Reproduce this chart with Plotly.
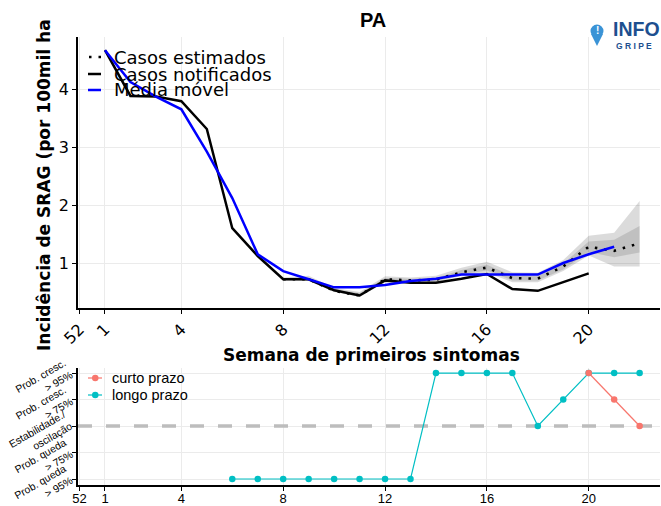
import plotly.graph_objects as go

W, H = 661, 506

# ---------------- data ----------------
weeks_notif = list(range(1, 21))
notified = [4.67, 3.88, 3.87, 3.79, 3.31, 1.60, 1.12, 0.72, 0.72, 0.53,
            0.44, 0.70, 0.66, 0.66, 0.73, 0.81, 0.55, 0.52, 0.67, 0.82]

weeks_ma = list(range(1, 22))
moving_avg = [4.67, 4.12, 3.87, 3.65, 2.92, 2.12, 1.15, 0.86, 0.72, 0.58,
              0.58, 0.62, 0.69, 0.73, 0.80, 0.80, 0.79, 0.80, 1.00, 1.15, 1.28]

weeks_est = list(range(8, 23))
estimated = [0.72, 0.72, 0.52, 0.44, 0.72, 0.70, 0.71, 0.84, 0.92, 0.74,
             0.73, 0.94, 1.28, 1.21, 1.34]
inner_lo = [0.71, 0.70, 0.51, 0.43, 0.69, 0.68, 0.69, 0.80, 0.87, 0.70,
            0.70, 0.89, 1.19, 1.10, 1.18]
inner_hi = [0.74, 0.75, 0.55, 0.48, 0.74, 0.73, 0.74, 0.88, 0.97, 0.78,
            0.77, 0.99, 1.37, 1.40, 1.64]
outer_lo = [0.70, 0.69, 0.50, 0.42, 0.66, 0.66, 0.67, 0.78, 0.83, 0.67,
            0.67, 0.86, 1.13, 0.94, 0.94]
outer_hi = [0.75, 0.78, 0.57, 0.50, 0.77, 0.75, 0.78, 0.92, 1.02, 0.84,
            0.83, 1.05, 1.47, 1.52, 2.07]

tick_vals = [0, 1, 4, 8, 12, 16, 20]
tick_text = ["52", "1", "4", "8", "12", "16", "20"]

weeks_long = list(range(6, 23))
trend_long = [-2, -2, -2, -2, -2, -2, -2, -2, 2, 2, 2, 2, 0, 1, 2, 2, 2]
weeks_short = [20, 21, 22]
trend_short = [2, 1, 0]

trend_vals = [2, 1, 0, -1, -2]
trend_text = ["Prob. cresc.<br>> 95%", "Prob. cresc.<br>> 75%",
              "Estabilidade./<br>oscilação", "Prob. queda<br>> 75%",
              "Prob. queda<br>> 95%"]

COL_SHORT = "#F8766D"
COL_LONG = "#00BFC4"


def px(x):
    return x / W


def py(y):
    return 1 - y / H


fig = go.Figure()

# bands
fig.add_trace(go.Scatter(x=weeks_est, y=outer_lo, mode="lines", line=dict(width=0),
                         showlegend=False, hoverinfo="skip", xaxis="x", yaxis="y"))
fig.add_trace(go.Scatter(x=weeks_est, y=outer_hi, mode="lines", line=dict(width=0),
                         fill="tonexty", fillcolor="rgba(0,0,0,0.14)",
                         showlegend=False, hoverinfo="skip", xaxis="x", yaxis="y"))
fig.add_trace(go.Scatter(x=weeks_est, y=inner_lo, mode="lines", line=dict(width=0),
                         showlegend=False, hoverinfo="skip", xaxis="x", yaxis="y"))
fig.add_trace(go.Scatter(x=weeks_est, y=inner_hi, mode="lines", line=dict(width=0),
                         fill="tonexty", fillcolor="rgba(0,0,0,0.12)",
                         showlegend=False, hoverinfo="skip", xaxis="x", yaxis="y"))

fig.add_trace(go.Scatter(x=weeks_est, y=estimated, mode="lines", name="Casos estimados",
                         line=dict(color="black", width=2.6, dash="2.5px,7px"),
                         showlegend=False, xaxis="x", yaxis="y"))
fig.add_trace(go.Scatter(x=weeks_notif, y=notified, mode="lines", name="Casos notificados",
                         line=dict(color="black", width=2.5),
                         showlegend=False, xaxis="x", yaxis="y"))
fig.add_trace(go.Scatter(x=weeks_ma, y=moving_avg, mode="lines", name="Média móvel",
                         line=dict(color="#0000FF", width=2.5),
                         showlegend=False, xaxis="x", yaxis="y"))

# bottom plot
fig.add_trace(go.Scatter(x=weeks_long, y=trend_long, mode="lines+markers", name="longo prazo",
                         line=dict(color=COL_LONG, width=1.2),
                         marker=dict(color=COL_LONG, size=6.5),
                         showlegend=False, xaxis="x2", yaxis="y2"))
fig.add_trace(go.Scatter(x=weeks_short, y=trend_short, mode="lines+markers", name="curto prazo",
                         line=dict(color=COL_SHORT, width=1.2),
                         marker=dict(color=COL_SHORT, size=6.5),
                         showlegend=False, xaxis="x2", yaxis="y2"))

xdom = [px(78), px(660)]
xrange_ = [-0.06, 22.8]

axis_common = dict(showline=True, linecolor="black", linewidth=1.5,
                   ticks="outside", ticklen=4, tickcolor="black", tickwidth=1,
                   showgrid=True, gridcolor="#ebebeb", gridwidth=1, zeroline=False,
                   automargin=False)

fig.update_layout(
    template="none",
    width=W, height=H,
    margin=dict(l=0, r=0, t=0, b=0, pad=0, autoexpand=False),
    plot_bgcolor="white", paper_bgcolor="white",
    showlegend=False,
    xaxis=dict(domain=xdom, range=xrange_, tickvals=tick_vals, ticktext=tick_text,
               tickangle=-45, tickfont=dict(family="DejaVu Sans", size=16, color="black"),
               anchor="y", **axis_common),
    yaxis=dict(domain=[py(308), py(37)], range=[0.224, 4.897], tickvals=[1, 2, 3, 4],
               tickfont=dict(family="DejaVu Sans", size=16, color="black"),
               anchor="x", **axis_common),
    xaxis2=dict(domain=xdom, range=xrange_, tickvals=tick_vals, ticktext=tick_text,
                tickangle=0, tickfont=dict(family="Liberation Sans", size=13, color="black"),
                ticklabelstandoff=-3,
                anchor="y2", **axis_common),
    yaxis2=dict(domain=[py(485), py(368)], range=[-2.226, 2.19], tickvals=trend_vals,
                showticklabels=False,
                anchor="x2", **axis_common),
)

annotations = [
    dict(text="<b>PA</b>", x=px(373), y=py(20), xref="paper", yref="paper",
         xanchor="center", yanchor="middle", showarrow=False,
         font=dict(family="Liberation Sans", size=20, color="black")),
    dict(text="<b>Semana de primeiros sintomas</b>", x=px(372), y=py(355), xref="paper",
         yref="paper", xanchor="center", yanchor="middle", showarrow=False,
         font=dict(family="DejaVu Sans", size=17, color="black")),
    dict(text="<b>Incidência de SRAG (por 100mil ha</b>", x=px(44), y=py(185), xref="paper",
         yref="paper", xanchor="center", yanchor="middle", showarrow=False, textangle=-90,
         font=dict(family="DejaVu Sans", size=17, color="black")),
    dict(text="<b>INFO</b>", x=px(611), y=py(29), xref="paper", yref="paper",
         xanchor="left", yanchor="middle", showarrow=False,
         font=dict(family="Liberation Sans", size=19.5, color="#1d4f8f")),
    dict(text="<b>G R I P E</b>", x=px(614), y=py(45.5), xref="paper", yref="paper",
         xanchor="left", yanchor="middle", showarrow=False,
         font=dict(family="Liberation Sans", size=8.5, color="#1d4f8f")),
    dict(text="<b>!</b>", x=px(597), y=py(31), xref="paper", yref="paper",
         xanchor="center", yanchor="middle",
         showarrow=False, font=dict(family="Liberation Sans", size=10, color="white")),
]

# bottom y tick labels (rotated), placed with the y2 scale
for v, t in zip(trend_vals, trend_text):
    annotations.append(dict(text=t, x=px(77), y=v, xref="paper", yref="y2",
                            xanchor="right", yanchor="middle", yshift=-9, align="right",
                            textangle=-30, showarrow=False,
                            font=dict(family="Liberation Sans", size=10.5, color="black")))

# top legend (manual)
top_legend = [("Casos estimados", 57), ("Casos notificados", 74), ("Média móvel", 90)]
for name, yy in top_legend:
    annotations.append(dict(text=name, x=px(112), y=py(yy), xref="paper", yref="paper",
                            xanchor="left", yanchor="middle", showarrow=False,
                            font=dict(family="DejaVu Sans", size=18, color="black")))

# bottom legend (manual)
bot_legend = [("curto prazo", 378), ("longo prazo", 395)]
for name, yy in bot_legend:
    annotations.append(dict(text=name, x=px(110), y=py(yy), xref="paper", yref="paper",
                            xanchor="left", yanchor="middle", showarrow=False,
                            font=dict(family="Liberation Sans", size=14.5, color="black")))

fig.update_layout(annotations=annotations)

shapes = [
    dict(type="line", xref="x2", yref="y2", x0=xrange_[0], x1=xrange_[1], y0=0, y1=0,
         line=dict(color="#bdbdbd", width=3.5, dash="14px,14px"), layer="between"),
    dict(type="circle", xref="paper", yref="paper", x0=px(590.5), x1=px(603.5),
         y0=py(37.5), y1=py(24.5), fillcolor="#3a93d6", line=dict(width=0)),
    dict(type="path", xref="paper", yref="paper",
         path=f"M {px(591)} {py(34)} L {px(603)} {py(34)} L {px(597)} {py(46)} Z",
         fillcolor="#3a93d6", line=dict(width=0)),
    # top legend keys
    dict(type="line", xref="paper", yref="paper", x0=px(89), x1=px(103), y0=py(57), y1=py(57),
         line=dict(color="black", width=2.6, dash="2.5px,7px")),
    dict(type="line", xref="paper", yref="paper", x0=px(88), x1=px(101), y0=py(74), y1=py(74),
         line=dict(color="black", width=2.5)),
    dict(type="line", xref="paper", yref="paper", x0=px(88), x1=px(101), y0=py(90), y1=py(90),
         line=dict(color="#0000FF", width=2.5)),
    # bottom legend keys
    dict(type="line", xref="paper", yref="paper", x0=px(88), x1=px(102), y0=py(378), y1=py(378),
         line=dict(color=COL_SHORT, width=1.2)),
    dict(type="circle", xref="paper", yref="paper", x0=px(92), x1=px(98.5), y0=py(381.2),
         y1=py(374.8), fillcolor=COL_SHORT, line=dict(width=0)),
    dict(type="line", xref="paper", yref="paper", x0=px(88), x1=px(102), y0=py(395), y1=py(395),
         line=dict(color=COL_LONG, width=1.2)),
    dict(type="circle", xref="paper", yref="paper", x0=px(92), x1=px(98.5), y0=py(398.2),
         y1=py(391.8), fillcolor=COL_LONG, line=dict(width=0)),
]
fig.update_layout(shapes=shapes)

fig.write_html("out.html", config={"displayModeBar": False},
               post_script="document.body.style.margin='0';document.body.style.padding='0';")
